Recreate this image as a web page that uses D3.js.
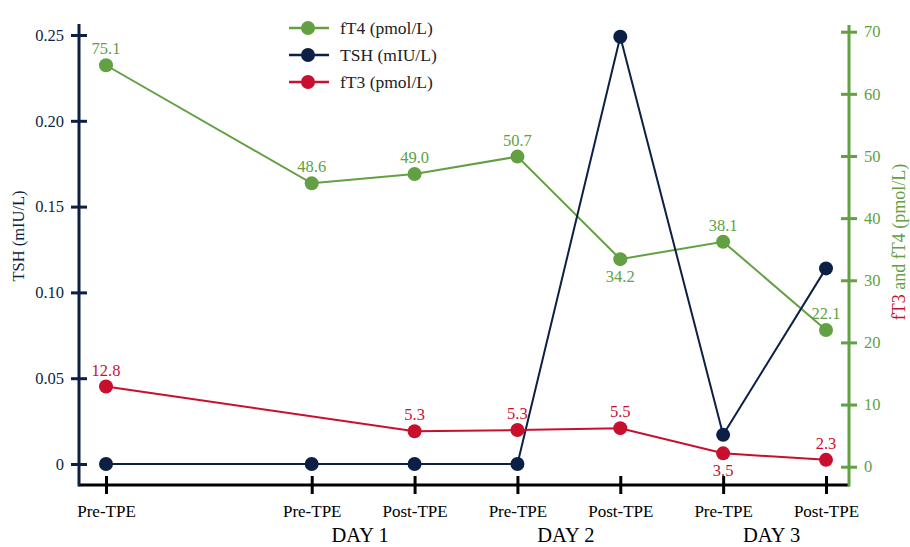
<!DOCTYPE html>
<html><head><meta charset="utf-8">
<script src="https://cdn.jsdelivr.net/npm/d3@7"></script>
<style>body{margin:0;background:#fff}svg,svg text{font-family:"Liberation Serif","Times New Roman",serif}</style>
</head><body>
<svg id="c" width="910" height="547"></svg>
<script>
// categories (x index positions, gap between baseline and day 1)
const xIndex = [0, 2, 3, 4, 5, 6, 7];
const xLabels = ["Pre-TPE", "Pre-TPE", "Post-TPE", "Pre-TPE", "Post-TPE", "Pre-TPE", "Post-TPE"];
const days = [{name: "DAY 1", from: 2, to: 3}, {name: "DAY 2", from: 4, to: 5}, {name: "DAY 3", from: 6, to: 7}];
// plotted positions
const fT4 = [64.6, 45.6, 47.1, 49.9, 33.4, 36.2, 22.0];
const fT3 = [12.9, 5.7, 5.9, 6.2, 2.15, 1.1];
const TSH = [0, 0, 0, 0, 0.249, 0.017, 0.114];
// data labels as printed
const fT4Text = ["75.1", "48.6", "49.0", "50.7", "34.2", "38.1", "22.1"];
const fT3Text = ["12.8", "5.3", "5.3", "5.5", "3.5", "2.3"];
const fT3Index = [0, 3, 4, 5, 6, 7];
const TSHText = [null, null, null, null, "0.24", "0.01", "0.12"];
const leftTicks = [0, 0.05, 0.10, 0.15, 0.20, 0.25];
const rightTicks = [0, 10, 20, 30, 40, 50, 60, 70];

const FONT = "'Liberation Serif', 'Times New Roman', serif";
const GREEN = "#62a043", NAVY = "#0c1f45", RED = "#c8102e", BLACK = "#000";
const svg = d3.select("#c");
const x = d3.scaleLinear().domain([0, 7]).range([106, 826]);
const yL = d3.scaleLinear().domain([0, 0.25]).range([464, 35]);
const yR = d3.scaleLinear().domain([0, 70]).range([466.7, 31.7]);
const axisY = 485, leftX = 79, rightX = 849;

// axes lines
svg.append("line").attr("x1", leftX).attr("x2", rightX).attr("y1", axisY).attr("y2", axisY).attr("stroke", BLACK).attr("stroke-width", 3);
svg.append("line").attr("x1", leftX).attr("x2", leftX).attr("y1", 24).attr("y2", axisY + 1.5).attr("stroke", NAVY).attr("stroke-width", 3);
svg.append("line").attr("x1", rightX).attr("x2", rightX).attr("y1", 25).attr("y2", axisY + 1.5).attr("stroke", GREEN).attr("stroke-width", 3);

// left ticks
const gl = svg.append("g").attr("transform", `translate(${leftX},0)`).call(d3.axisLeft(yL).tickValues(leftTicks).tickSize(8).tickFormat(d => d === 0 ? "0" : d3.format(".2f")(d)));
gl.attr("font-family", FONT).attr("font-size", 16.5);
gl.select(".domain").remove();
gl.selectAll(".tick line").attr("x1", -8).attr("x2", 8).attr("stroke", NAVY).attr("stroke-width", 3);
gl.selectAll(".tick text").attr("x", -15).attr("fill", NAVY);

// right ticks
const gr = svg.append("g").attr("transform", `translate(${rightX},0)`).call(d3.axisRight(yR).tickValues(rightTicks).tickSize(8));
gr.attr("font-family", FONT).attr("font-size", 16.5);
gr.select(".domain").remove();
gr.selectAll(".tick line").attr("x1", -8).attr("x2", 8).attr("stroke", GREEN).attr("stroke-width", 3);
gr.selectAll(".tick text").attr("x", 15).attr("fill", GREEN);

// x ticks
const gx = svg.append("g").attr("transform", `translate(0,${axisY})`).call(d3.axisBottom(x).tickValues(xIndex).tickSize(9).tickFormat((d, i) => xLabels[i]));
gx.attr("font-family", FONT).attr("font-size", 17);
gx.select(".domain").remove();
gx.selectAll(".tick line").attr("y1", -9).attr("y2", 9).attr("stroke", BLACK).attr("stroke-width", 3);
gx.selectAll(".tick text").attr("y", 20).attr("fill", BLACK);

svg.selectAll("text.day").data(days).join("text").attr("class", "day")
  .attr("x", d => (x(d.from) + x(d.to)) / 2 - 3).attr("y", 542).attr("text-anchor", "middle")
  .attr("fill", BLACK).attr("font-family", FONT).attr("font-size", 20.5).text(d => d.name);

// axis titles
svg.append("text").attr("transform", "translate(24,236) rotate(-90)").attr("text-anchor", "middle")
  .attr("fill", NAVY).attr("font-family", FONT).attr("font-size", 16.5).text("TSH (mIU/L)");
const rt = svg.append("text").attr("transform", "translate(905,242) rotate(-90)").attr("text-anchor", "middle")
  .attr("font-family", FONT).attr("font-size", 18);
rt.append("tspan").attr("fill", RED).text("fT3");
rt.append("tspan").attr("fill", GREEN).text(" and fT4 (pmol/L)");

function series(xs, ys, yScale, color) {
  const line = d3.line().x((d, i) => x(xs[i])).y(d => yScale(d));
  svg.append("path").datum(ys).attr("d", line).attr("fill", "none").attr("stroke", color).attr("stroke-width", 2);
  svg.append("g").selectAll("circle").data(ys).join("circle")
    .attr("cx", (d, i) => x(xs[i])).attr("cy", d => yScale(d)).attr("r", 7).attr("fill", color);
}
series(xIndex, fT4, yR, GREEN);
series(xIndex, TSH, yL, NAVY);
series(fT3Index, fT3, yR, RED);

// data labels
function labels(xs, ys, texts, yScale, color, below, right) {
  svg.append("g").attr("font-family", FONT).attr("font-size", 16.5).selectAll("text").data(ys).join("text")
    .filter((d, i) => texts[i] !== null)
    .attr("x", (d, i) => right.includes(i) ? x(xs[i]) + 14 : x(xs[i]))
    .attr("y", (d, i) => below.includes(i) ? yScale(d) + 23 : right.includes(i) ? yScale(d) + 5 : yScale(d) - 11)
    .attr("text-anchor", (d, i) => right.includes(i) ? "start" : "middle")
    .attr("fill", color)
    .text((d, i) => texts[i]);
}
labels(xIndex, fT4, fT4Text, yR, GREEN, [4], []);
labels(xIndex, TSH, TSHText, yL, NAVY, [], [5]);
labels(fT3Index, fT3, fT3Text, yR, RED, [4], []);

// legend
const legend = [{name: "fT4 (pmol/L)", color: GREEN}, {name: "TSH (mIU/L)", color: NAVY}, {name: "fT3 (pmol/L)", color: RED}];
const lg = svg.append("g").attr("font-family", FONT).attr("font-size", 17.5).selectAll("g").data(legend).join("g").attr("transform", (d, i) => `translate(0,${28 + i * 27})`);
lg.append("line").attr("x1", 289).attr("x2", 329).attr("stroke", d => d.color).attr("stroke-width", 2.5);
lg.append("circle").attr("cx", 308).attr("r", 7).attr("fill", d => d.color);
lg.append("text").attr("x", 340).attr("y", 6).attr("fill", "#222").text(d => d.name);
</script>
</body></html>
